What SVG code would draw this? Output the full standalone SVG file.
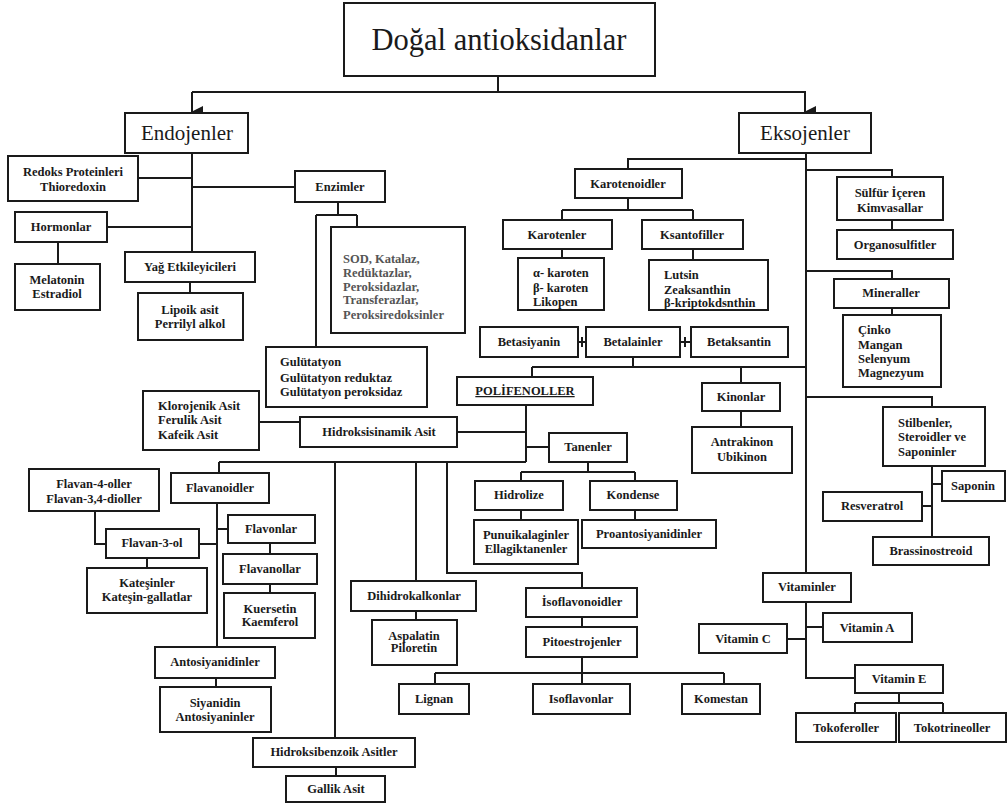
<svg xmlns="http://www.w3.org/2000/svg" width="1008" height="805" viewBox="0 0 1008 805" font-family="'Liberation Serif', 'Times New Roman', serif">
<style>
rect{fill:#fff;stroke:#1a1a1a;stroke-width:2}
text{font-family:'Liberation Serif','Times New Roman',serif;font-weight:bold;font-size:12.5px;fill:#1a1a1a;text-anchor:middle}
.l{text-anchor:start}
.big{font-weight:normal;font-size:21px}
.title{font-weight:normal;font-size:30.5px}
.grey{fill:#555}
.u{text-decoration:underline}
#connectors path{fill:none;stroke:#1a1a1a;stroke-width:2}
</style>
<defs>
<marker id="arr" markerWidth="12" markerHeight="12" refX="6" refY="11" orient="auto" markerUnits="userSpaceOnUse">
<path d="M0,0 L12,0 L6,12 Z" fill="#1a1a1a"/>
</marker>
</defs>
<rect x="0" y="0" width="1008" height="805" style="fill:#fff;stroke:none"/>
<g id="connectors">
<path d="M498,76 V92 M192,92 H806"/>
<path d="M192,92 V112" marker-end="url(#arr)"/>
<path d="M805,92 V112" marker-end="url(#arr)"/>
<path d="M192,153 V252 M138,178 H192 M192,187 H295 M107,227 H192 M58,242 V264 M190,282 V293"/>
<path d="M338,202 V215 M316,215 H357 M316,215 V347 M357,215 V227"/>
<path d="M259,422 H300 M457,432 H526 M526,405 V462 M526,447 H549"/>
<path d="M219,462 H526 M219,462 V473 M335,462 V738 M416,462 V581 M447,462 V573 H582 V588"/>
<path d="M217,503 V647 M217,529 H228 M199,544 H217 M95,511 V544 H106 M147,558 V568 M270,543 V554 M270,584 V593 M216,678 V687"/>
<path d="M416,611 V620 M582,617 V627 M582,657 V684 M435,673 H724 M435,673 V684 M724,673 V684 M336,767 V776"/>
<path d="M588,462 V472 M521,472 H635 M521,472 V481 M635,472 V481 M521,510 V520 M635,510 V520"/>
<path d="M806,153 V573"/>
<path d="M806,159 H628 V169 M628,198 V210 M562,210 H693 M562,210 V220 M693,210 V220 M562,249 V258 M693,249 V260"/>
<path d="M806,170 H892 V177 M892,220 V230 M806,271 H892 V279 M892,308 V315"/>
<path d="M578,342 H586 M582,337 V347 M680,342 H691 M685,337 V347 M633,357 V367 M532,367 H806 M532,367 V377 M741,367 V383 M741,411 V427"/>
<path d="M806,397 H932 V407 M932,466 V537 M932,484 H942 M922,506 H932"/>
<path d="M806,602 V678 H855 M806,627 H823 M787,639 H806 M899,693 V703 M855,703 H943 M855,703 V713 M943,703 V713"/>
</g>
<g id="title"><rect x="344" y="3" width="311" height="73"/><text class="title" x="499" y="50">Doğal antioksidanlar</text></g>
<g id="endojenler"><rect x="125" y="113" width="123" height="40"/><text class="big" x="187" y="140">Endojenler</text></g>
<g id="eksojenler"><rect x="739" y="113" width="132" height="40"/><text class="big" x="805" y="140">Eksojenler</text></g>
<g id="redoks"><rect x="8" y="156" width="130" height="45"/><text x="73" y="176">Redoks Proteinleri</text><text x="73" y="191">Thioredoxin</text></g>
<g id="hormonlar"><rect x="15" y="212" width="92" height="30"/><text x="61" y="231">Hormonlar</text></g>
<g id="melatonin"><rect x="15" y="264" width="85" height="46"/><text x="57" y="284">Melatonin</text><text x="57" y="298">Estradiol</text></g>
<g id="yag"><rect x="125" y="252" width="130" height="30"/><text x="190" y="271">Yağ Etkileyicileri</text></g>
<g id="lipoik"><rect x="138" y="293" width="105" height="47"/><text x="190" y="314">Lipoik asit</text><text x="190" y="328">Perrilyl alkol</text></g>
<g id="enzimler"><rect x="295" y="171" width="90" height="31"/><text x="340" y="191">Enzimler</text></g>
<g id="sod"><rect x="331" y="227" width="134" height="106"/><text class="l grey" x="343" y="263">SOD, Katalaz,</text><text class="l grey" x="343" y="277">Redüktazlar,</text><text class="l grey" x="343" y="291">Peroksidazlar,</text><text class="l grey" x="343" y="304">Transferazlar,</text><text class="l grey" x="343" y="319">Peroksiredoksinler</text></g>
<g id="gulutatyon"><rect x="266" y="347" width="161" height="60"/><text class="l" x="280" y="366">Gulütatyon</text><text class="l" x="280" y="382">Gulütatyon reduktaz</text><text class="l" x="280" y="396">Gulütatyon peroksidaz</text></g>
<g id="klorojenik"><rect x="143" y="391" width="116" height="59"/><text class="l" x="158" y="410">Klorojenik Asit</text><text class="l" x="158" y="424">Ferulik Asit</text><text class="l" x="158" y="439">Kafeik Asit</text></g>
<g id="hidroksisinamik"><rect x="300" y="417" width="157" height="30"/><text x="379" y="436">Hidroksisinamik Asit</text></g>
<g id="polifenoller"><rect x="457" y="377" width="136" height="28"/><text class="u" x="525" y="395">POLİFENOLLER</text></g>
<g id="karotenoidler"><rect x="575" y="169" width="107" height="29"/><text x="628" y="188">Karotenoidler</text></g>
<g id="karotenler"><rect x="503" y="220" width="109" height="29"/><text x="557" y="239">Karotenler</text></g>
<g id="ksantofiller"><rect x="642" y="220" width="101" height="29"/><text x="692" y="239">Ksantofiller</text></g>
<g id="karoten-list"><rect x="518" y="258" width="86" height="52"/><text class="l" x="533" y="277">α- karoten</text><text class="l" x="533" y="292">β- karoten</text><text class="l" x="533" y="306">Likopen</text></g>
<g id="lutsin"><rect x="649" y="260" width="119" height="50"/><text class="l" x="664" y="279">Lutsin</text><text class="l" x="664" y="294">Zeaksanthin</text><text class="l" x="664" y="307">β-kriptokdsnthin</text></g>
<g id="sulfur"><rect x="837" y="177" width="106" height="43"/><text x="890" y="197">Sülfür İçeren</text><text x="890" y="212">Kimvasallar</text></g>
<g id="organosulfitler"><rect x="837" y="230" width="116" height="29"/><text x="895" y="249">Organosulfitler</text></g>
<g id="mineraller"><rect x="834" y="279" width="115" height="29"/><text x="891" y="297">Mineraller</text></g>
<g id="cinko"><rect x="843" y="315" width="98" height="72"/><text class="l" x="858" y="334">Çinko</text><text class="l" x="858" y="349">Mangan</text><text class="l" x="858" y="363">Selenyum</text><text class="l" x="858" y="377">Magnezyum</text></g>
<g id="betasiyanin"><rect x="480" y="327" width="98" height="30"/><text x="529" y="346">Betasiyanin</text></g>
<g id="betalainler"><rect x="586" y="327" width="94" height="30"/><text x="633" y="346">Betalainler</text></g>
<g id="betaksantin"><rect x="691" y="327" width="97" height="30"/><text x="739" y="346">Betaksantin</text></g>
<g id="kinonlar"><rect x="702" y="383" width="78" height="28"/><text x="741" y="401">Kinonlar</text></g>
<g id="antrakinon"><rect x="692" y="427" width="100" height="46"/><text x="742" y="446">Antrakinon</text><text x="742" y="461">Ubikinon</text></g>
<g id="stilbenler"><rect x="883" y="407" width="102" height="59"/><text class="l" x="898" y="427">Stilbenler,</text><text class="l" x="898" y="441">Steroidler ve</text><text class="l" x="898" y="456">Saponinler</text></g>
<g id="saponin"><rect x="942" y="471" width="63" height="30"/><text x="973" y="490">Saponin</text></g>
<g id="resveratrol"><rect x="823" y="492" width="99" height="29"/><text x="872" y="510">Resveratrol</text></g>
<g id="brassinostreoid"><rect x="873" y="537" width="116" height="28"/><text x="931" y="555">Brassinostreoid</text></g>
<g id="tanenler"><rect x="549" y="433" width="78" height="29"/><text x="588" y="451">Tanenler</text></g>
<g id="hidrolize"><rect x="475" y="481" width="88" height="29"/><text x="519" y="499">Hidrolize</text></g>
<g id="kondense"><rect x="590" y="481" width="87" height="29"/><text x="633" y="499">Kondense</text></g>
<g id="punuikalaginler"><rect x="474" y="520" width="104" height="44"/><text x="526" y="539">Punuikalaginler</text><text x="526" y="553">Ellagiktanenler</text></g>
<g id="proantosiyanidinler"><rect x="582" y="520" width="134" height="28"/><text x="649" y="538">Proantosiyanidinler</text></g>
<g id="flavan4"><rect x="29" y="469" width="130" height="42"/><text x="94" y="488">Flavan-4-oller</text><text x="94" y="503">Flavan-3,4-dioller</text></g>
<g id="flavanoidler"><rect x="171" y="473" width="98" height="30"/><text x="220" y="492">Flavanoidler</text></g>
<g id="flavan3ol"><rect x="106" y="529" width="93" height="29"/><text x="152" y="547">Flavan-3-ol</text></g>
<g id="katesinler"><rect x="87" y="568" width="120" height="45"/><text x="147" y="587">Kateşinler</text><text x="147" y="601">Kateşin-gallatlar</text></g>
<g id="flavonlar"><rect x="228" y="515" width="87" height="28"/><text x="271" y="533">Flavonlar</text></g>
<g id="flavanollar"><rect x="223" y="554" width="94" height="30"/><text x="270" y="573">Flavanollar</text></g>
<g id="kuersetin"><rect x="224" y="593" width="91" height="45"/><text x="270" y="613">Kuersetin</text><text x="270" y="626">Kaemferol</text></g>
<g id="antosiyanidinler"><rect x="155" y="647" width="120" height="31"/><text x="215" y="666">Antosiyanidinler</text></g>
<g id="siyanidin"><rect x="160" y="687" width="111" height="45"/><text x="215" y="707">Siyanidin</text><text x="215" y="721">Antosiyaninler</text></g>
<g id="dihidrokalkonlar"><rect x="351" y="581" width="125" height="30"/><text x="414" y="600">Dihidrokalkonlar</text></g>
<g id="aspalatin"><rect x="372" y="620" width="85" height="45"/><text x="414" y="640">Aspalatin</text><text x="414" y="652">Piloretin</text></g>
<g id="isoflavonoidler"><rect x="526" y="588" width="111" height="29"/><text x="582" y="606">İsoflavonoidler</text></g>
<g id="pitoestrojenler"><rect x="526" y="627" width="111" height="30"/><text x="582" y="646">Pitoestrojenler</text></g>
<g id="lignan"><rect x="399" y="684" width="70" height="30"/><text x="434" y="703">Lignan</text></g>
<g id="isoflavonlar"><rect x="533" y="684" width="97" height="30"/><text x="581" y="703">Isoflavonlar</text></g>
<g id="komestan"><rect x="682" y="684" width="78" height="30"/><text x="721" y="703">Komestan</text></g>
<g id="hidroksibenzoik"><rect x="253" y="738" width="162" height="29"/><text x="334" y="756">Hidroksibenzoik Asitler</text></g>
<g id="gallik"><rect x="286" y="776" width="99" height="26"/><text x="336" y="793">Gallik Asit</text></g>
<g id="vitaminler"><rect x="763" y="573" width="88" height="29"/><text x="807" y="591">Vitaminler</text></g>
<g id="vitaminA"><rect x="823" y="613" width="89" height="29"/><text x="867" y="632">Vitamin A</text></g>
<g id="vitaminC"><rect x="699" y="624" width="88" height="29"/><text x="743" y="643">Vitamin C</text></g>
<g id="vitaminE"><rect x="855" y="665" width="88" height="28"/><text x="899" y="683">Vitamin E</text></g>
<g id="tokoferoller"><rect x="796" y="713" width="100" height="29"/><text x="846" y="732">Tokoferoller</text></g>
<g id="tokotrineoller"><rect x="899" y="713" width="107" height="29"/><text x="952" y="732">Tokotrineoller</text></g>
</svg>
